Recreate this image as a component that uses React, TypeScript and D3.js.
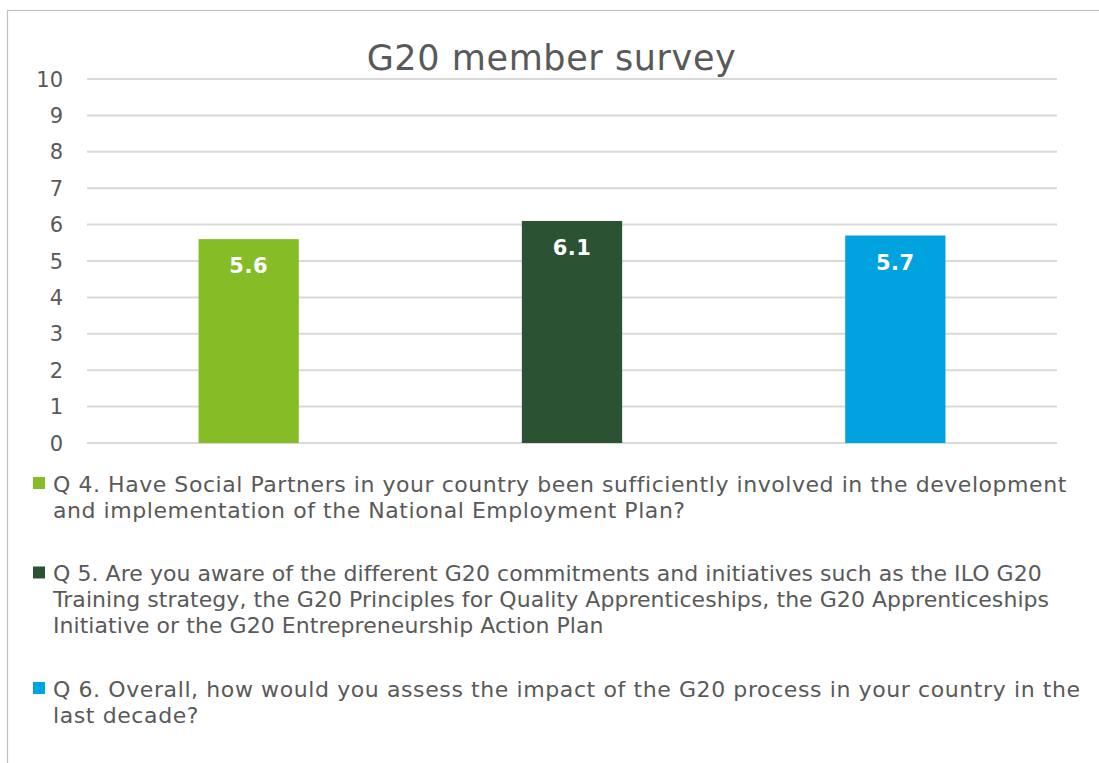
import React from "react";
import * as d3 from "d3";

const title = "G20 member survey";
const categories = ["Q 4", "Q 5", "Q 6"];
const values = [5.6, 6.1, 5.7];
const barColors = ["#86bc25", "#2c5234", "#00a3e0"];
const yTicks = [0, 1, 2, 3, 4, 5, 6, 7, 8, 9, 10];
const legendLines = [
  [
    "Q 4. Have Social Partners in your country been sufficiently involved in the development",
    "and implementation of the National Employment Plan?",
  ],
  [
    "Q 5. Are you aware of the different G20 commitments and initiatives such as the ILO G20",
    "Training strategy, the G20 Principles for Quality Apprenticeships, the G20 Apprenticeships",
    "Initiative or the G20 Entrepreneurship Action Plan",
  ],
  [
    "Q 6. Overall, how would you assess the impact of the G20 process in your country in the",
    "last decade?",
  ],
];
const legendSpacing = [0.55, 0.05, 0.6];

const W = 1099;
const H = 763;
const FONT = "'DejaVu Sans', Verdana, sans-serif";
const TEXT = "#595959";

export default function App() {
  const plotLeft = 87;
  const plotRight = 1057;
  const plotTop = 79;
  const plotBottom = 443;

  const x = d3
    .scaleBand<string>()
    .domain(categories)
    .range([plotLeft, plotRight])
    .paddingInner(0.69)
    .paddingOuter(0.345);
  const y = d3.scaleLinear().domain([0, 10]).range([plotBottom, plotTop]);

  const legendStart = 491.5;
  const lineH = 26;
  const entryGap = 37.5;
  let cursor = legendStart;
  const legendPos = legendLines.map((lines) => {
    const first = cursor;
    cursor += lines.length * lineH + entryGap;
    return first;
  });

  return (
    <div style={{ position: "absolute", left: 0, top: 0 }}>
      <svg width={W} height={H} style={{ display: "block", fontFamily: FONT }}>
        <rect x={0} y={0} width={W} height={H} fill="#ffffff" />
        <rect x={7.5} y={10.5} width={1200} height={1000} fill="#ffffff" stroke="#c0c0c0" strokeWidth={1.2} />
        <text x={551.5} y={70} textAnchor="middle" fontSize={35} letterSpacing={0.6} fill={TEXT}>
          {title}
        </text>
        {yTicks.map((t) => (
          <g key={t}>
            <line x1={plotLeft} x2={plotRight} y1={y(t)} y2={y(t)} stroke="#d9d9d9" strokeWidth={2} />
            <text x={63} y={y(t)} dy="0.36em" textAnchor="end" fontSize={21} fill={TEXT}>
              {t}
            </text>
          </g>
        ))}
        {categories.map((c, i) => (
          <g key={c}>
            <rect
              x={x(c)}
              y={y(values[i])}
              width={x.bandwidth()}
              height={y(0) - y(values[i])}
              fill={barColors[i]}
            />
            <text
              x={(x(c) as number) + x.bandwidth() / 2}
              y={y(values[i]) + 34}
              textAnchor="middle"
              fontSize={21}
              fontWeight="bold"
              letterSpacing={0.5}
              fill="#ffffff"
            >
              {values[i].toFixed(1)}
            </text>
          </g>
        ))}
        {legendLines.map((lines, i) => (
          <g key={i}>
            <rect x={33} y={legendPos[i] - 14.5} width={12} height={12} fill={barColors[i]} />
            {lines.map((ln, j) => (
              <text
                key={j}
                x={53}
                y={legendPos[i] + j * lineH}
                fontSize={22}
                letterSpacing={legendSpacing[i]}
                fill={TEXT}
              >
                {ln}
              </text>
            ))}
          </g>
        ))}
      </svg>
    </div>
  );
}
